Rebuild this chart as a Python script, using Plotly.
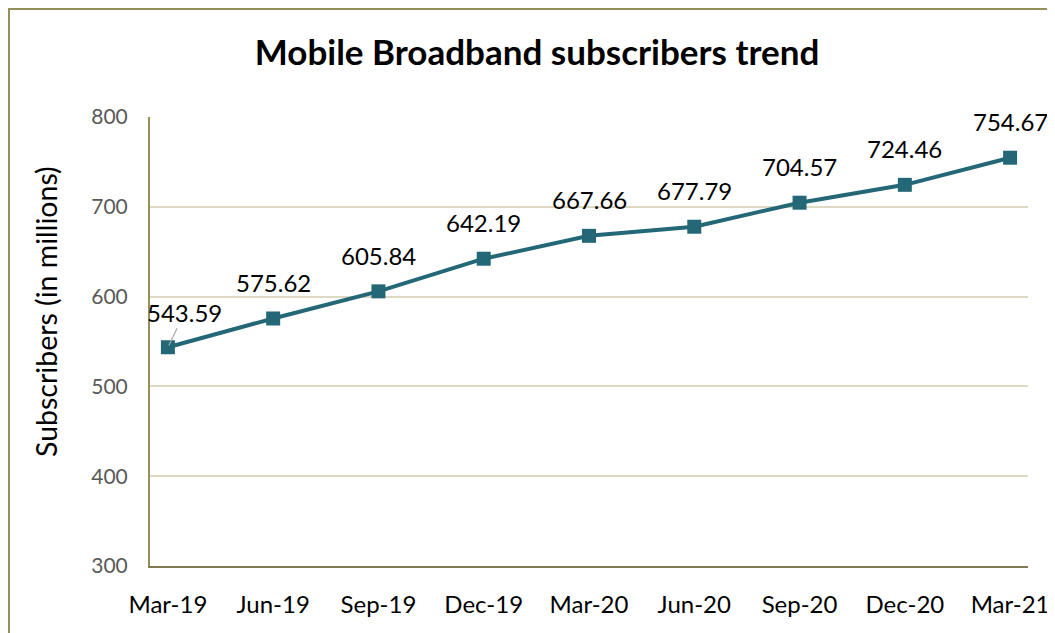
import plotly.graph_objects as go

quarters = ["Mar-19", "Jun-19", "Sep-19", "Dec-19", "Mar-20", "Jun-20", "Sep-20", "Dec-20", "Mar-21"]
subscribers = [543.59, 575.62, 605.84, 642.19, 667.66, 677.79, 704.57, 724.46, 754.67]
y_ticks = [300, 400, 500, 600, 700, 800]

LINE = "#246878"
FONT = "Lato"
xs = list(range(len(quarters)))

W, H = 1055, 633
ML, MR, MT, MB = 142, 35, 109, 75
PW, PH = W - ML - MR, H - MT - MB

fig = go.Figure()
fig.add_trace(go.Scatter(
    x=xs, y=subscribers, mode="lines+markers",
    line=dict(color=LINE, width=4),
    marker=dict(symbol="square", size=14, color=LINE),
    hoverinfo="skip", showlegend=False, cliponaxis=False,
))

annotations = []
for i, (q, v) in enumerate(zip(xs, subscribers)):
    if i == 0:
        annotations.append(dict(
            x=q, y=v, xref="x", yref="y", text=f"{v:.2f}",
            showarrow=True, arrowhead=0, arrowwidth=1.2, arrowcolor="#a6a6a6",
            ax=17, ay=-35, standoff=2,
            font=dict(family=FONT, size=24, color="#000000"),
        ))
    else:
        annotations.append(dict(
            x=q, y=v, xref="x", yref="y", text=f"{v:.2f}",
            showarrow=False, yshift=36,
            font=dict(family=FONT, size=24, color="#000000"),
        ))

# y-axis title (placed as in the reference, above plot centre)
annotations.append(dict(
    text="Subscribers (in millions)", textangle=-90, showarrow=False,
    xref="paper", yref="paper", x=(38 - ML) / PW, y=1 - (304 - MT) / PH,
    xanchor="center", yanchor="middle",
    font=dict(family=FONT, size=28.5, color="#000000"),
))

fig.update_layout(
    width=W, height=H,
    margin=dict(l=ML, r=MR, t=MT, b=MB),
    paper_bgcolor="white", plot_bgcolor="white",
    title=dict(text="<b>Mobile Broadband subscribers trend</b>", x=529 / W, xanchor="center",
               y=1 - 45 / H, yanchor="middle",
               font=dict(family=FONT, size=35, color="#000000")),
    annotations=annotations,
    shapes=[dict(type="rect", xref="paper", yref="paper",
                 x0=-ML / PW, x1=(W - ML) / PW, y0=-MB / PH, y1=1 + MT / PH,
                 line=dict(color="#958f5a", width=4), layer="below")],
)

fig.update_xaxes(
    range=[-0.17, 8.17], tickvals=xs, ticktext=quarters,
    showgrid=False, zeroline=False, automargin=False,
    showline=True, linecolor="#7f7a4f", linewidth=2,
    ticks="", ticklabelstandoff=16,
    tickfont=dict(family=FONT, size=24, color="#000000"),
)
fig.update_yaxes(
    range=[300, 800], tickvals=y_ticks,
    showgrid=True, gridcolor="#ddd9c3", gridwidth=1.5, zeroline=False, automargin=False,
    showline=True, linecolor="#958f5a", linewidth=2,
    ticks="", ticklabelstandoff=16,
    tickfont=dict(family=FONT, size=21, color="#595959"),
)

fig.write_html("out.html")
